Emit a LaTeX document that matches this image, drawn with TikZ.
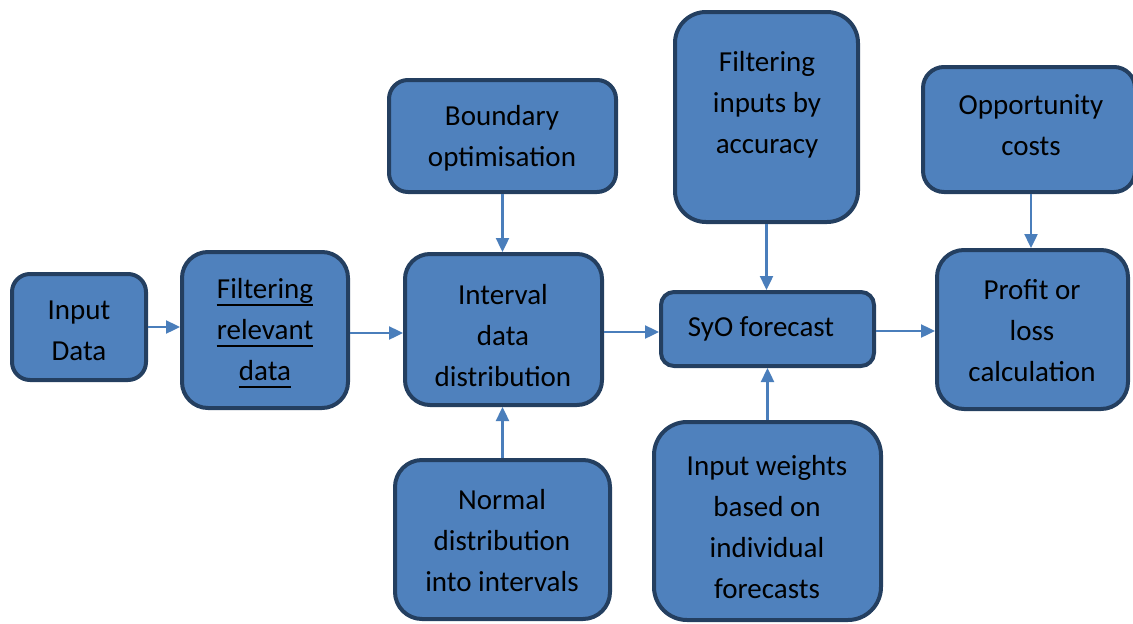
\documentclass[tikz,border=0pt]{standalone}
\usepackage{fontspec}
\setmainfont{Carlito}
\usetikzlibrary{arrows.meta}
\definecolor{boxfill}{HTML}{4F81BD}
\definecolor{boxline}{HTML}{243F60}
\definecolor{arrowc}{HTML}{4A7EBB}
\newcommand{\ulword}[1]{\tikz[baseline=(w.base)]{\node[inner sep=0pt] (w) {#1};\draw[line width=1.6pt] ([yshift=-7pt]w.base west) -- ([yshift=-7pt]w.base east);}}
\tikzset{
  stepbox/.style={draw=boxline, fill=boxfill, line width=4pt, rectangle, inner sep=0pt},
  boxtext/.style={align=center, inner sep=0pt, font=\fontsize{29pt}{41pt}\selectfont, text=black},
  flow/.style={draw=arrowc, line width=2.4pt, -{Triangle[length=14pt,width=13pt]}}
}
\begin{document}
\begin{tikzpicture}[x=1pt,y=-1pt]
\useasboundingbox (0,0) rectangle (1133,624);

% process boxes
\node[stepbox, minimum width=134pt, minimum height=106pt, rounded corners=18pt] (inp) at (79,327) {};
\node[stepbox, minimum width=166pt, minimum height=156pt, rounded corners=26pt] (filt) at (265,330) {};
\node[stepbox, minimum width=227pt, minimum height=112pt, rounded corners=19pt] (bound) at (502.5,136) {};
\node[stepbox, minimum width=197pt, minimum height=151pt, rounded corners=25pt] (intv) at (503.5,329.5) {};
\node[stepbox, minimum width=215pt, minimum height=159pt, rounded corners=27pt] (norm) at (502.5,539.5) {};
\node[stepbox, minimum width=213pt, minimum height=74pt, rounded corners=13pt] (syo) at (767.5,329) {};
\node[stepbox, minimum width=183pt, minimum height=210pt, rounded corners=31pt] (facc) at (766.5,117) {};
\node[stepbox, minimum width=227pt, minimum height=198pt, rounded corners=33pt] (wts) at (767.5,521) {};
\node[stepbox, minimum width=212pt, minimum height=125pt, rounded corners=21pt] (opp) at (1029,129.5) {};
\node[stepbox, minimum width=191pt, minimum height=159pt, rounded corners=27pt] (prof) at (1032.5,329.5) {};

% box labels
\node[boxtext] (tinp) at (79,331) {Input\\Data};
\node[boxtext] (tfilt) at (265,333) {\ulword{Filtering}\\\ulword{relevant}\\\ulword{data}};
\node[boxtext] (tbound) at (502,138) {Boundary\\optimisation};
\node[boxtext] (tintv) at (503,336) {Interval\\data\\distribution};
\node[boxtext] (tnorm) at (502,541) {Normal\\distribution\\into intervals};
\node[boxtext] (tsyo) at (761,329) {SyO forecast};
\node[boxtext] (tfacc) at (767,105) {Filtering\\inputs by\\accuracy};
\node[boxtext] (twts) at (767,527) {Input weights\\based on\\individual\\forecasts};
\node[boxtext] (topp) at (1031,125) {Opportunity\\costs};
\node[boxtext] (tprof) at (1032,331) {Profit or\\loss\\calculation};

% connectors
\draw[flow] (inp.east) -- (inp.east -| filt.west);
\draw[flow] ([yshift=-3pt]filt.east) -- ([yshift=-3pt]filt.east -| intv.west);
\draw[flow] ([yshift=-2.5pt]intv.east) -- ([yshift=-2.5pt]intv.east -| syo.west);
\draw[flow] ([yshift=-2pt]syo.east) -- ([yshift=-2pt]syo.east -| prof.west);
\draw[flow] (bound.south) -- (bound.south |- intv.north);
\draw[flow] (norm.north) -- (norm.north |- intv.south);
\draw[flow] (facc.south) -- (facc.south |- syo.north);
\draw[flow] (wts.north) -- (wts.north |- syo.south);
\draw[flow] ([xshift=2pt]opp.south) -- ([xshift=2pt]opp.south |- prof.north);
\end{tikzpicture}
\end{document}
